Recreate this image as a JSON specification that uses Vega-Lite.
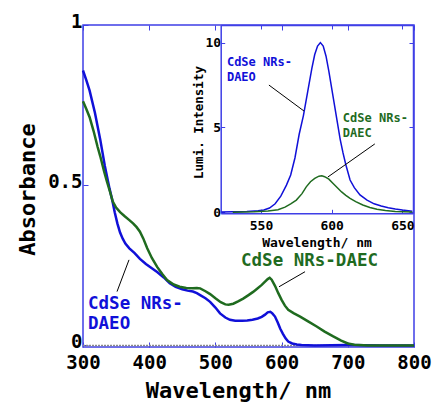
{
  "$schema": "https://vega.github.io/schema/vega-lite/v6.json",
  "width": 331,
  "height": 322,
  "autosize": "none",
  "padding": {"left": 83, "top": 25, "right": 23, "bottom": 56},
  "config": {
    "view": {"stroke": "#3f3fe6", "strokeWidth": 1.5},
    "font": "DejaVu Sans Mono",
    "axis": {"grid": false, "labelFlush": false, "labelOverlap": false, "tickColor": "#3f3fe6", "domainColor": "#3f3fe6", "domainWidth": 1.5, "labelColor": "#000000", "titleColor": "#000000", "labelFontWeight": "bold", "titleFontWeight": "bold", "labelFont": "DejaVu Sans Mono", "titleFont": "DejaVu Sans Mono"}
  },
  "datasets": {
    "abs": [
      {"s": "DAEO", "wl": 300, "a": 0.858}, {"s": "DAEO", "wl": 305, "a": 0.828}, {"s": "DAEO", "wl": 310, "a": 0.795}, {"s": "DAEO", "wl": 318, "a": 0.726},
      {"s": "DAEO", "wl": 326, "a": 0.643}, {"s": "DAEO", "wl": 333, "a": 0.56}, {"s": "DAEO", "wl": 340, "a": 0.49}, {"s": "DAEO", "wl": 344, "a": 0.455},
      {"s": "DAEO", "wl": 348, "a": 0.415}, {"s": "DAEO", "wl": 352, "a": 0.38}, {"s": "DAEO", "wl": 356, "a": 0.352}, {"s": "DAEO", "wl": 360, "a": 0.333},
      {"s": "DAEO", "wl": 364, "a": 0.318}, {"s": "DAEO", "wl": 370, "a": 0.303}, {"s": "DAEO", "wl": 378, "a": 0.288}, {"s": "DAEO", "wl": 386, "a": 0.27},
      {"s": "DAEO", "wl": 395, "a": 0.254}, {"s": "DAEO", "wl": 404, "a": 0.241}, {"s": "DAEO", "wl": 412, "a": 0.229}, {"s": "DAEO", "wl": 422, "a": 0.212},
      {"s": "DAEO", "wl": 431, "a": 0.194}, {"s": "DAEO", "wl": 440, "a": 0.183}, {"s": "DAEO", "wl": 450, "a": 0.175}, {"s": "DAEO", "wl": 458, "a": 0.171},
      {"s": "DAEO", "wl": 466, "a": 0.168}, {"s": "DAEO", "wl": 472, "a": 0.163}, {"s": "DAEO", "wl": 477, "a": 0.157}, {"s": "DAEO", "wl": 485, "a": 0.147},
      {"s": "DAEO", "wl": 492, "a": 0.136}, {"s": "DAEO", "wl": 500, "a": 0.118}, {"s": "DAEO", "wl": 507, "a": 0.1}, {"s": "DAEO", "wl": 515, "a": 0.087},
      {"s": "DAEO", "wl": 522, "a": 0.08}, {"s": "DAEO", "wl": 530, "a": 0.077}, {"s": "DAEO", "wl": 540, "a": 0.077}, {"s": "DAEO", "wl": 548, "a": 0.078},
      {"s": "DAEO", "wl": 556, "a": 0.08}, {"s": "DAEO", "wl": 564, "a": 0.084}, {"s": "DAEO", "wl": 570, "a": 0.089}, {"s": "DAEO", "wl": 575, "a": 0.096},
      {"s": "DAEO", "wl": 579, "a": 0.103}, {"s": "DAEO", "wl": 583, "a": 0.105}, {"s": "DAEO", "wl": 586, "a": 0.1}, {"s": "DAEO", "wl": 590, "a": 0.09},
      {"s": "DAEO", "wl": 594, "a": 0.072}, {"s": "DAEO", "wl": 598, "a": 0.052}, {"s": "DAEO", "wl": 602, "a": 0.036}, {"s": "DAEO", "wl": 606, "a": 0.022},
      {"s": "DAEO", "wl": 610, "a": 0.012}, {"s": "DAEO", "wl": 616, "a": 0.006}, {"s": "DAEO", "wl": 623, "a": 0.003}, {"s": "DAEO", "wl": 630, "a": 0.001},
      {"s": "DAEO", "wl": 650, "a": 0.0}, {"s": "DAEO", "wl": 700, "a": 0.001}, {"s": "DAEO", "wl": 750, "a": 0.0}, {"s": "DAEO", "wl": 800, "a": 0.0},
      {"s": "DAEC", "wl": 300, "a": 0.762}, {"s": "DAEC", "wl": 305, "a": 0.738}, {"s": "DAEC", "wl": 310, "a": 0.712}, {"s": "DAEC", "wl": 316, "a": 0.669},
      {"s": "DAEC", "wl": 322, "a": 0.62}, {"s": "DAEC", "wl": 326, "a": 0.591}, {"s": "DAEC", "wl": 332, "a": 0.542}, {"s": "DAEC", "wl": 336, "a": 0.513},
      {"s": "DAEC", "wl": 341, "a": 0.478}, {"s": "DAEC", "wl": 345, "a": 0.449}, {"s": "DAEC", "wl": 350, "a": 0.43}, {"s": "DAEC", "wl": 356, "a": 0.416},
      {"s": "DAEC", "wl": 363, "a": 0.403}, {"s": "DAEC", "wl": 370, "a": 0.391}, {"s": "DAEC", "wl": 376, "a": 0.38}, {"s": "DAEC", "wl": 381, "a": 0.369},
      {"s": "DAEC", "wl": 386, "a": 0.355}, {"s": "DAEC", "wl": 391, "a": 0.334}, {"s": "DAEC", "wl": 397, "a": 0.303}, {"s": "DAEC", "wl": 404, "a": 0.273},
      {"s": "DAEC", "wl": 412, "a": 0.245}, {"s": "DAEC", "wl": 420, "a": 0.222}, {"s": "DAEC", "wl": 427, "a": 0.204}, {"s": "DAEC", "wl": 437, "a": 0.19},
      {"s": "DAEC", "wl": 446, "a": 0.183}, {"s": "DAEC", "wl": 456, "a": 0.179}, {"s": "DAEC", "wl": 466, "a": 0.178}, {"s": "DAEC", "wl": 472, "a": 0.179},
      {"s": "DAEC", "wl": 477, "a": 0.178}, {"s": "DAEC", "wl": 485, "a": 0.169}, {"s": "DAEC", "wl": 492, "a": 0.16}, {"s": "DAEC", "wl": 500, "a": 0.147},
      {"s": "DAEC", "wl": 508, "a": 0.135}, {"s": "DAEC", "wl": 515, "a": 0.128}, {"s": "DAEC", "wl": 520, "a": 0.127}, {"s": "DAEC", "wl": 527, "a": 0.13},
      {"s": "DAEC", "wl": 535, "a": 0.138}, {"s": "DAEC", "wl": 542, "a": 0.146}, {"s": "DAEC", "wl": 550, "a": 0.157}, {"s": "DAEC", "wl": 557, "a": 0.167},
      {"s": "DAEC", "wl": 563, "a": 0.177}, {"s": "DAEC", "wl": 570, "a": 0.189}, {"s": "DAEC", "wl": 575, "a": 0.199}, {"s": "DAEC", "wl": 579, "a": 0.207},
      {"s": "DAEC", "wl": 582, "a": 0.211}, {"s": "DAEC", "wl": 585, "a": 0.205}, {"s": "DAEC", "wl": 590, "a": 0.186}, {"s": "DAEC", "wl": 595, "a": 0.163},
      {"s": "DAEC", "wl": 600, "a": 0.142}, {"s": "DAEC", "wl": 605, "a": 0.124}, {"s": "DAEC", "wl": 610, "a": 0.111}, {"s": "DAEC", "wl": 618, "a": 0.101},
      {"s": "DAEC", "wl": 628, "a": 0.09}, {"s": "DAEC", "wl": 640, "a": 0.075}, {"s": "DAEC", "wl": 653, "a": 0.059}, {"s": "DAEC", "wl": 665, "a": 0.043},
      {"s": "DAEC", "wl": 678, "a": 0.028}, {"s": "DAEC", "wl": 690, "a": 0.015}, {"s": "DAEC", "wl": 700, "a": 0.006}, {"s": "DAEC", "wl": 710, "a": 0.002},
      {"s": "DAEC", "wl": 730, "a": 0.0}, {"s": "DAEC", "wl": 800, "a": 0.0}
    ],
    "pl": [
      {"s": "DAEO", "wl": 522, "p": 0.02}, {"s": "DAEO", "wl": 530, "p": 0.03}, {"s": "DAEO", "wl": 540, "p": 0.05}, {"s": "DAEO", "wl": 548, "p": 0.09},
      {"s": "DAEO", "wl": 552, "p": 0.14}, {"s": "DAEO", "wl": 556, "p": 0.25}, {"s": "DAEO", "wl": 560, "p": 0.5}, {"s": "DAEO", "wl": 564, "p": 0.95},
      {"s": "DAEO", "wl": 568, "p": 1.6}, {"s": "DAEO", "wl": 571, "p": 2.2}, {"s": "DAEO", "wl": 574, "p": 3.2}, {"s": "DAEO", "wl": 577, "p": 4.6},
      {"s": "DAEO", "wl": 580, "p": 5.7}, {"s": "DAEO", "wl": 583, "p": 7.1}, {"s": "DAEO", "wl": 586, "p": 8.5}, {"s": "DAEO", "wl": 588, "p": 9.3},
      {"s": "DAEO", "wl": 590, "p": 9.8}, {"s": "DAEO", "wl": 592, "p": 10.0}, {"s": "DAEO", "wl": 594, "p": 9.8}, {"s": "DAEO", "wl": 596, "p": 9.2},
      {"s": "DAEO", "wl": 598, "p": 8.3}, {"s": "DAEO", "wl": 600, "p": 7.3}, {"s": "DAEO", "wl": 602, "p": 6.3}, {"s": "DAEO", "wl": 604, "p": 5.3},
      {"s": "DAEO", "wl": 606, "p": 4.3}, {"s": "DAEO", "wl": 608, "p": 3.5}, {"s": "DAEO", "wl": 610, "p": 2.8}, {"s": "DAEO", "wl": 613, "p": 1.9},
      {"s": "DAEO", "wl": 616, "p": 1.45}, {"s": "DAEO", "wl": 620, "p": 1.02}, {"s": "DAEO", "wl": 625, "p": 0.72}, {"s": "DAEO", "wl": 630, "p": 0.5},
      {"s": "DAEO", "wl": 635, "p": 0.37}, {"s": "DAEO", "wl": 640, "p": 0.27}, {"s": "DAEO", "wl": 645, "p": 0.19}, {"s": "DAEO", "wl": 650, "p": 0.13},
      {"s": "DAEO", "wl": 657, "p": 0.06},
      {"s": "DAEC", "wl": 530, "p": 0.0}, {"s": "DAEC", "wl": 545, "p": 0.03}, {"s": "DAEC", "wl": 555, "p": 0.08}, {"s": "DAEC", "wl": 562, "p": 0.15},
      {"s": "DAEC", "wl": 567, "p": 0.3}, {"s": "DAEC", "wl": 571, "p": 0.5}, {"s": "DAEC", "wl": 575, "p": 0.72}, {"s": "DAEC", "wl": 579, "p": 1.1},
      {"s": "DAEC", "wl": 582, "p": 1.5}, {"s": "DAEC", "wl": 585, "p": 1.8}, {"s": "DAEC", "wl": 588, "p": 2.0}, {"s": "DAEC", "wl": 591, "p": 2.13},
      {"s": "DAEC", "wl": 593, "p": 2.15}, {"s": "DAEC", "wl": 595, "p": 2.1}, {"s": "DAEC", "wl": 598, "p": 1.95}, {"s": "DAEC", "wl": 601, "p": 1.7},
      {"s": "DAEC", "wl": 604, "p": 1.45}, {"s": "DAEC", "wl": 607, "p": 1.2}, {"s": "DAEC", "wl": 610, "p": 1.0}, {"s": "DAEC", "wl": 613, "p": 0.82},
      {"s": "DAEC", "wl": 617, "p": 0.63}, {"s": "DAEC", "wl": 622, "p": 0.43}, {"s": "DAEC", "wl": 627, "p": 0.28}, {"s": "DAEC", "wl": 632, "p": 0.18},
      {"s": "DAEC", "wl": 638, "p": 0.1}, {"s": "DAEC", "wl": 645, "p": 0.05}, {"s": "DAEC", "wl": 657, "p": 0.02}
    ],
    "mainLabels": [
      {"s": "DAEO", "wl": 307.6, "a": 0.115, "t": "CdSe NRs-"},
      {"s": "DAEO", "wl": 307.6, "a": 0.05, "t": "DAEO"},
      {"s": "DAEC", "wl": 538.7, "a": 0.248, "t": "CdSe NRs-DAEC"}
    ],
    "mainLeaders": [
      {"wl": 369.5, "a": 0.267, "wl2": 351.4, "a2": 0.168},
      {"wl": 635.4, "a": 0.23, "wl2": 596.1, "a2": 0.183}
    ],
    "zero": [{"wl": 300, "wl2": 800, "a": 0}],
    "insetLabels": [
      {"s": "DAEO", "wl": 525.9, "p": 8.6, "t": "CdSe NRs-"},
      {"s": "DAEO", "wl": 525.9, "p": 7.75, "t": "DAEO"},
      {"s": "DAEC", "wl": 607.9, "p": 5.3, "t": "CdSe NRs-"},
      {"s": "DAEC", "wl": 607.9, "p": 4.42, "t": "DAEC"}
    ],
    "insetLeaders": [
      {"wl": 555.6, "p": 7.5, "wl2": 580.4, "p2": 5.97},
      {"wl": 630.5, "p": 4.03, "wl2": 597.3, "p2": 2.08}
    ]
  },
  "layer": [
    {
      "layer": [
        {
          "data": {"name": "zero"},
          "mark": {"type": "rule", "color": "#8a8a8a", "strokeWidth": 1.5, "strokeDash": [2, 1]},
          "encoding": {
            "x": {"field": "wl", "type": "quantitative", "scale": {"domain": [300, 800], "nice": false, "zero": false},
                  "axis": {"orient": "top", "values": [300, 400, 500, 600, 700, 800], "labels": false, "domain": false, "tickSize": -5, "tickWidth": 1, "title": null}},
            "x2": {"field": "wl2"},
            "y": {"field": "a", "type": "quantitative", "scale": {"domain": [-0.005, 1], "nice": false, "zero": false}, "axis": null}
          }
        },
        {
          "data": {"name": "abs"},
          "mark": {"type": "line", "strokeWidth": 2.5},
          "encoding": {
            "x": {"field": "wl", "type": "quantitative",
                  "axis": {"orient": "bottom", "values": [300, 400, 500, 600, 700, 800], "domain": false, "tickSize": -5, "tickWidth": 1, "labelPadding": 11, "labelFontSize": 19, "title": "Wavelength/ nm", "titleFontSize": 22, "titleX": 155, "titleY": 50, "titleBaseline": "alphabetic"}},
            "y": {"field": "a", "type": "quantitative",
                  "axis": {"orient": "left", "values": [0, 0.5, 1], "format": "~g", "domain": false, "tickSize": -5, "tickWidth": 1, "labelPadding": 6, "labelOffset": -4, "labelFontSize": 19, "title": "Absorbance", "titleFontSize": 22, "titleX": -49, "titleY": 164, "titleBaseline": "alphabetic"}},
            "color": {"field": "s", "type": "nominal", "scale": {"domain": ["DAEO", "DAEC"], "range": ["#1010d8", "#1f6b1f"]}, "legend": null},
            "order": {"field": "wl", "type": "quantitative"}
          }
        },
        {
          "data": {"name": "mainLeaders"},
          "mark": {"type": "rule", "color": "#000000", "strokeWidth": 1},
          "encoding": {
            "x": {"field": "wl", "type": "quantitative", "axis": null},
            "y": {"field": "a", "type": "quantitative", "axis": null},
            "x2": {"field": "wl2"},
            "y2": {"field": "a2"}
          }
        },
        {
          "data": {"name": "mainLabels"},
          "mark": {"type": "text", "align": "left", "baseline": "alphabetic", "fontSize": 17.5, "fontWeight": "bold", "font": "DejaVu Sans Mono"},
          "encoding": {
            "x": {"field": "wl", "type": "quantitative", "axis": null},
            "y": {"field": "a", "type": "quantitative", "axis": null},
            "text": {"field": "t"},
            "color": {"field": "s", "type": "nominal", "scale": {"domain": ["DAEO", "DAEC"], "range": ["#1010d8", "#1f6b1f"]}, "legend": null}
          }
        }
      ],
      "resolve": {"axis": {"x": "independent", "y": "independent"}}
    },
    {
      "layer": [
        {
          "data": {"name": "pl"},
          "mark": {"type": "line", "strokeWidth": 1.5},
          "encoding": {
            "x": {"field": "wl", "type": "quantitative", "scale": {"domain": [521.5, 657.5], "range": [137.7, 330], "nice": false, "zero": false},
                  "axis": {"orient": "bottom", "offset": -133.7, "values": [550, 600, 650], "tickSize": -4, "tickWidth": 1, "labelPadding": 10, "labelFontSize": 13, "title": "Wavelength/ nm", "titleFontSize": 13, "titleX": 233.5, "titleY": 33, "titleBaseline": "alphabetic"}},
            "y": {"field": "p", "type": "quantitative", "scale": {"domain": [-0.06, 11.04], "range": [188.3, 0], "nice": false, "zero": false},
                  "axis": {"orient": "left", "offset": -137.7, "values": [0, 5, 10], "tickSize": -4, "tickWidth": 1, "labelPadding": 4, "labelFontSize": 13, "title": "Lumi. Intensity", "titleFontSize": 12.5, "titleX": -18, "titleY": 97, "titleBaseline": "alphabetic"}},
            "color": {"field": "s", "type": "nominal", "scale": {"domain": ["DAEO", "DAEC"], "range": ["#1010d8", "#1f6b1f"]}, "legend": null},
            "order": {"field": "wl", "type": "quantitative"}
          }
        },
        {
          "data": {"name": "insetLeaders"},
          "mark": {"type": "rule", "color": "#000000", "strokeWidth": 1},
          "encoding": {
            "x": {"field": "wl", "type": "quantitative",
                  "axis": {"orient": "top", "offset": 0.01, "values": [550, 600, 650], "labels": false, "tickSize": -4, "tickWidth": 1, "title": null}},
            "y": {"field": "p", "type": "quantitative",
                  "axis": {"orient": "right", "offset": -1, "values": [0, 5, 10], "labels": false, "tickSize": -4, "tickWidth": 1, "title": null}},
            "x2": {"field": "wl2"},
            "y2": {"field": "p2"}
          }
        },
        {
          "data": {"name": "insetLabels"},
          "mark": {"type": "text", "align": "left", "baseline": "alphabetic", "fontSize": 12, "fontWeight": "bold", "font": "DejaVu Sans Mono"},
          "encoding": {
            "x": {"field": "wl", "type": "quantitative", "axis": null},
            "y": {"field": "p", "type": "quantitative", "axis": null},
            "text": {"field": "t"},
            "color": {"field": "s", "type": "nominal", "scale": {"domain": ["DAEO", "DAEC"], "range": ["#1010d8", "#1f6b1f"]}, "legend": null}
          }
        }
      ],
      "resolve": {"axis": {"x": "independent", "y": "independent"}}
    }
  ],
  "resolve": {"scale": {"x": "independent", "y": "independent", "color": "shared"}, "axis": {"x": "independent", "y": "independent"}}
}
